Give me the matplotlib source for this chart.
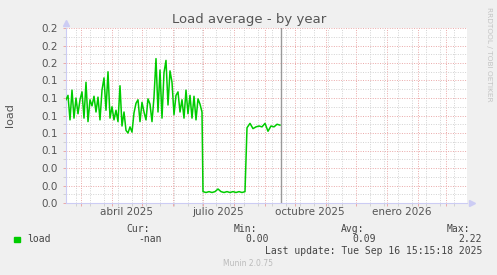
import numpy as np
import pandas as pd
import matplotlib
matplotlib.use('Agg')
import matplotlib.pyplot as plt
import matplotlib.dates as mdates
import matplotlib.ticker as ticker

# 数据：load 平均值（按年）
seg1_start = '2025-02-14'   # 每 2 天一个点
seg1_values = [0.118, 0.123, 0.095, 0.129, 0.097, 0.120, 0.102, 0.118, 0.127, 0.097,
               0.138, 0.093, 0.118, 0.111, 0.122, 0.104, 0.121, 0.095, 0.129, 0.143,
               0.106, 0.150, 0.097, 0.110, 0.095, 0.106, 0.093, 0.134, 0.088, 0.104,
               0.083, 0.080, 0.087, 0.081, 0.103, 0.114, 0.118, 0.093, 0.115, 0.104,
               0.095, 0.119, 0.113, 0.093, 0.121, 0.165, 0.104, 0.152, 0.097, 0.149,
               0.163, 0.112, 0.151, 0.138, 0.101, 0.123, 0.127, 0.104, 0.118, 0.097,
               0.129, 0.102, 0.123, 0.097, 0.122, 0.095, 0.119, 0.113, 0.104]
seg2_start = '2025-07-01'   # 每 3 天
seg2_values = [0.013, 0.012, 0.013, 0.012, 0.013, 0.016, 0.013, 0.012, 0.013, 0.012,
               0.013, 0.012, 0.013, 0.012, 0.013]
seg3_start = '2025-08-14'   # 每 3 天
seg3_values = [0.086, 0.091, 0.085, 0.087, 0.088, 0.087, 0.091, 0.082, 0.088, 0.087,
               0.090, 0.089]

month_labels = ['abril 2025', 'julio 2025', 'octubre 2025', 'enero 2026']
month_label_dates = ['2025-04-16', '2025-07-16', '2025-10-16', '2026-01-16']
y_ticks = [0.0, 0.02, 0.04, 0.06, 0.08, 0.10, 0.12, 0.14, 0.16, 0.18, 0.20]

legend_cur = '-nan'
legend_min = '0.00'
legend_avg = '0.09'
legend_max = '2.22'
last_update = 'Last update: Tue Sep 16 15:15:18 2025'
now_time = pd.Timestamp('2025-09-16 15:15:18')

dates = pd.DatetimeIndex(
    list(pd.date_range(seg1_start, periods=len(seg1_values), freq='2D')) +
    list(pd.date_range(seg2_start, periods=len(seg2_values), freq='3D')) +
    list(pd.date_range(seg3_start, periods=len(seg3_values), freq='3D')))
values = seg1_values + seg2_values + seg3_values

W, H = 497, 275
fig = plt.figure(figsize=(W / 100, H / 100), dpi=100, facecolor='#F0F0F0')
ax = fig.add_axes([66 / W, (H - 203) / H, 401 / W, 175 / H])
ax.set_facecolor('white')

ax.set_xlim(pd.Timestamp('2025-02-14'), pd.Timestamp('2026-03-22'))
ax.set_ylim(0, 0.2)

# 网格
red = '#EAA8A8'
gray = '#D2D2D2'
ax.xaxis.set_major_locator(mdates.MonthLocator())
ax.xaxis.set_minor_locator(ticker.FixedLocator(
    mdates.date2num(pd.date_range('2025-01-13', '2026-04-30', freq='14D'))))
ax.xaxis.set_major_formatter(ticker.NullFormatter())
ax.yaxis.set_major_locator(ticker.FixedLocator(y_ticks))
ax.yaxis.set_minor_locator(ticker.MultipleLocator(0.01))
ax.yaxis.set_major_formatter(ticker.FormatStrFormatter('%.1f'))
ax.grid(True, which='minor', color=gray, linestyle=(0, (1, 1.5)), linewidth=0.7)
ax.grid(True, which='major', color=red, linestyle=(0, (1, 1.5)), linewidth=0.7)
ax.set_axisbelow(True)
ax.tick_params(which='major', length=2, width=0.7, color=red, labelsize=7.5,
               labelcolor='#555555', pad=4)
ax.tick_params(which='minor', length=2, width=0.7, color=gray)

for s in ['top', 'right']:
    ax.spines[s].set_visible(False)
for s in ['left', 'bottom']:
    ax.spines[s].set_color('#CCCCF4')
    ax.spines[s].set_linewidth(0.8)
ax.plot([0], [1.03], marker='^', color='#CCCCF4', markersize=4,
        transform=ax.transAxes, clip_on=False)
ax.plot([1.013], [0], marker='>', color='#CCCCF4', markersize=4,
        transform=ax.transAxes, clip_on=False)

for lab, d in zip(month_labels, month_label_dates):
    ax.text(pd.Timestamp(d), -0.05, lab, transform=ax.get_xaxis_transform(),
            ha='center', va='center', fontsize=7.5, color='#555555')

ax.plot(dates, values, color='#00CC00', linewidth=1.1, zorder=3)
ax.axvline(now_time, color='#999999', linewidth=1, zorder=4)

fig.text(249 / W, 1 - 19 / H, 'Load average - by year', ha='center', va='center',
         fontsize=9.5, color='#555555')
fig.text(10 / W, 1 - 115 / H, 'load', rotation=90, ha='center', va='center',
         fontsize=8, color='#555555')
fig.text(488.5 / W, 1 - 54 / H, 'RRDTOOL / TOBI OETIKER', rotation=270,
         ha='center', va='center', fontsize=5.3, color='#C4C4C4')

# 图例
mono = dict(family='DejaVu Sans Mono', fontsize=7, color='#444444', va='center')
fig.patches.append(plt.Rectangle((14 / W, 1 - 242 / H), 5.5 / W, 5.5 / H,
                                 transform=fig.transFigure, color='#00CC00'))
fig.text(27 / W, 1 - 239.5 / H, 'load', ha='left', **mono)
for head, val, xr in [('Cur:', legend_cur, 162), ('Min:', legend_min, 269),
                      ('Avg:', legend_avg, 376), ('Max:', legend_max, 482)]:
    fig.text((xr - 12) / W, 1 - 228.5 / H, head, ha='right', **mono)
    fig.text(xr / W, 1 - 239.5 / H, val, ha='right', **mono)
fig.text(482 / W, 1 - 251 / H, last_update, ha='right', **mono)
fig.text(248 / W, 1 - 264 / H, 'Munin 2.0.75', ha='center', va='center',
         fontsize=5.5, color='#BBBBBB')

fig.savefig('out.png', dpi=100, facecolor=fig.get_facecolor())
